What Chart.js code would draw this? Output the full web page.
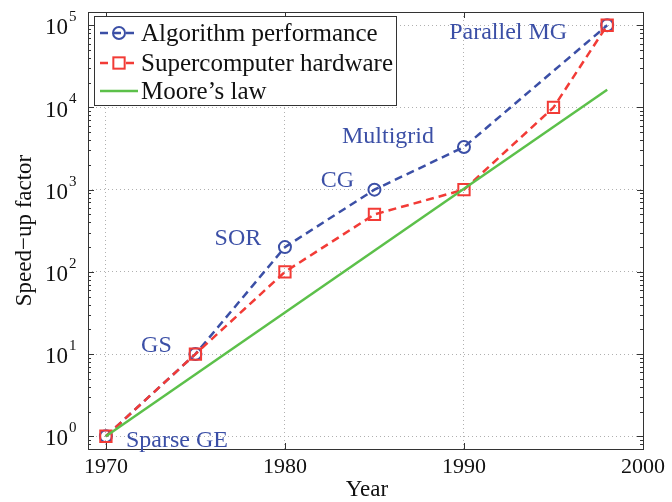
<!DOCTYPE html>
<html>
<head>
<meta charset="utf-8">
<script src="https://cdn.jsdelivr.net/npm/chart.js@4.4.1/dist/chart.umd.min.js"></script>
<style>
  html, body { margin: 0; padding: 0; background: #fff; }
</style>
</head>
<body>
<canvas id="speedupChart" width="672" height="502"></canvas>
<script>
// data
const algoYears = [1970, 1975, 1980, 1985, 1990, 1998];
const algoSpeedup = [1, 10, 200, 1000, 3300, 100000];
const algoNames = ['Sparse GE', 'GS', 'SOR', 'CG', 'Multigrid', 'Parallel MG'];
const hwYears = [1970, 1975, 1980, 1985, 1990, 1995, 1998];
const hwSpeedup = [1, 10, 100, 500, 1000, 10000, 100000];
const mooreYears = [1970, 1998];
const mooreSpeedup = [1, 16384];
const yearTicks = [1970, 1980, 1990, 2000];
const decadeTicks = [1, 10, 100, 1000, 10000, 100000];

const BLUE = '#3b4fa6';
const RED = '#f23b36';
const GREEN = '#5cc04a';
const SERIF = '"Liberation Serif", "DejaVu Serif", serif';

// pixel offsets of the method names from their points
const nameOffsets = [[71, 4], [-39, -8], [-47, -8], [-37, -9], [-76, -10], [-99, 7]];

const toPoints = (xs, ys) => xs.map((x, i) => ({ x: x, y: ys[i] }));

const matlabFrame = {
  id: 'matlabFrame',
  afterDraw(chart) {
    const ctx = chart.ctx;
    const a = chart.chartArea;
    const xs = chart.scales.x;
    const ys = chart.scales.y;
    const line = (x1, y1, x2, y2) => { ctx.beginPath(); ctx.moveTo(x1, y1); ctx.lineTo(x2, y2); ctx.stroke(); };
    ctx.save();

    // box
    ctx.strokeStyle = '#333';
    ctx.lineWidth = 1;
    ctx.setLineDash([]);
    ctx.strokeRect(Math.round(a.left) + 0.5, Math.round(a.top) + 0.5, Math.round(a.right - a.left), Math.round(a.bottom - a.top));

    // x ticks, inside, bottom and top
    yearTicks.forEach(v => {
      const px = Math.round(xs.getPixelForValue(v)) + 0.5;
      line(px, a.bottom, px, a.bottom - 6);
      line(px, a.top, px, a.top + 6);
    });

    // y major and minor ticks, inside, left and right
    const yMin = ys.min, yMax = ys.max;
    [0.1].concat(decadeTicks).forEach(d => {
      for (let k = 1; k <= 9; k++) {
        const v = d * k;
        if (v < yMin || v > yMax) continue;
        const len = k === 1 ? 6 : 3;
        const py = Math.round(ys.getPixelForValue(v)) + 0.5;
        line(a.left, py, a.left + len, py);
        line(a.right, py, a.right - len, py);
      }
    });

    // y tick labels as 10^n
    ctx.fillStyle = '#111';
    decadeTicks.forEach(v => {
      const py = ys.getPixelForValue(v);
      const exp = String(Math.round(Math.log10(v)));
      ctx.font = '23px ' + SERIF;
      ctx.textAlign = 'right';
      ctx.textBaseline = 'middle';
      ctx.fillText('10', 68, py + 3);
      ctx.font = '15px ' + SERIF;
      ctx.textAlign = 'left';
      ctx.fillText(exp, 69, py - 8);
    });

    // axis titles
    ctx.font = '23px ' + SERIF;
    ctx.textAlign = 'center';
    ctx.textBaseline = 'middle';
    ctx.fillText('Year', 367, 490);
    ctx.save();
    ctx.translate(25, (a.top + a.bottom) / 2);
    ctx.rotate(-Math.PI / 2);
    ctx.fillText('Speed\u2212up factor', 0, 0);
    ctx.restore();

    // method names next to the algorithm points
    ctx.font = '24px ' + SERIF;
    ctx.fillStyle = BLUE;
    algoNames.forEach((name, i) => {
      const px = xs.getPixelForValue(algoYears[i]);
      const py = ys.getPixelForValue(algoSpeedup[i]);
      ctx.fillText(name, px + nameOffsets[i][0], py + nameOffsets[i][1]);
    });

    // legend box
    const bx = 94.5, by = 16.5, bw = 302, bh = 89;
    ctx.fillStyle = '#fff';
    ctx.fillRect(bx, by, bw, bh);
    ctx.strokeStyle = '#333';
    ctx.lineWidth = 1;
    ctx.strokeRect(bx, by, bw, bh);
    const rows = [33, 63, 91];
    chart.data.datasets.forEach((ds, i) => {
      const ry = rows[i];
      ctx.strokeStyle = ds.borderColor;
      ctx.lineWidth = ds.borderWidth;
      ctx.setLineDash(ds.borderDash || []);
      line(100, ry, 138, ry);
      ctx.setLineDash([]);
      if (ds.pointRadius > 0) {
        ctx.strokeStyle = ds.borderColor;
        ctx.lineWidth = ds.pointBorderWidth;
        ctx.beginPath();
        if (ds.pointStyle === 'rect') {
          const s = ds.pointRadius * Math.SQRT1_2;
          ctx.fillStyle = '#fff';
          ctx.fillRect(119 - s, ry - s, 2 * s, 2 * s);
          ctx.strokeRect(119 - s, ry - s, 2 * s, 2 * s);
        } else {
          ctx.arc(119, ry, ds.pointRadius, 0, Math.PI * 2);
          ctx.stroke();
        }
      }
      ctx.fillStyle = '#111';
      ctx.font = '25px ' + SERIF;
      ctx.textAlign = 'left';
      ctx.textBaseline = 'middle';
      ctx.fillText(ds.label, 141, ry + 1);
    });

    ctx.restore();
  }
};

const speedCtx = document.getElementById('speedupChart').getContext('2d');
new Chart(speedCtx, {
  type: 'line',
  data: {
    datasets: [
      {
        label: 'Algorithm performance',
        data: toPoints(algoYears, algoSpeedup),
        borderColor: BLUE,
        borderWidth: 2.5,
        borderDash: [8, 5],
        pointStyle: 'circle',
        pointRadius: 6,
        pointBorderWidth: 2,
        pointBackgroundColor: 'rgba(0,0,0,0)',
        pointBorderColor: BLUE,
        fill: false,
        order: 3
      },
      {
        label: 'Supercomputer hardware',
        data: toPoints(hwYears, hwSpeedup),
        borderColor: RED,
        borderWidth: 2.5,
        borderDash: [8, 5],
        pointStyle: 'rect',
        pointRadius: 8,
        pointBorderWidth: 2,
        pointBackgroundColor: 'rgba(0,0,0,0)',
        pointBorderColor: RED,
        fill: false,
        order: 2
      },
      {
        label: 'Moore\u2019s law',
        data: toPoints(mooreYears, mooreSpeedup),
        borderColor: GREEN,
        borderWidth: 2.5,
        pointRadius: 0,
        fill: false,
        order: 1
      }
    ]
  },
  options: {
    responsive: false,
    animation: false,
    devicePixelRatio: 1,
    layout: { padding: { left: 0, right: 29, top: 12, bottom: 0 } },
    plugins: {
      legend: { display: false },
      tooltip: { enabled: false }
    },
    elements: { line: { tension: 0 } },
    scales: {
      x: {
        type: 'linear',
        min: 1969,
        max: 2000,
        afterBuildTicks: s => { s.ticks = yearTicks.map(v => ({ value: v })); },
        afterFit: s => { s.height = 53; },
        ticks: {
          color: '#111',
          font: { family: SERIF, size: 22 },
          padding: 5,
          maxRotation: 0,
          callback: v => String(v)
        },
        grid: { color: '#b0b0b0', lineWidth: 1, drawTicks: false },
        border: { display: false, dash: [1, 3] }
      },
      y: {
        type: 'logarithmic',
        min: 0.71,
        max: 145000,
        afterBuildTicks: s => { s.ticks = decadeTicks.map(v => ({ value: v })); },
        afterFit: s => { s.width = 88; },
        ticks: { display: false },
        grid: { color: '#b0b0b0', lineWidth: 1, drawTicks: false },
        border: { display: false, dash: [1, 3] }
      }
    }
  },
  plugins: [matlabFrame]
});
</script>
</body>
</html>
